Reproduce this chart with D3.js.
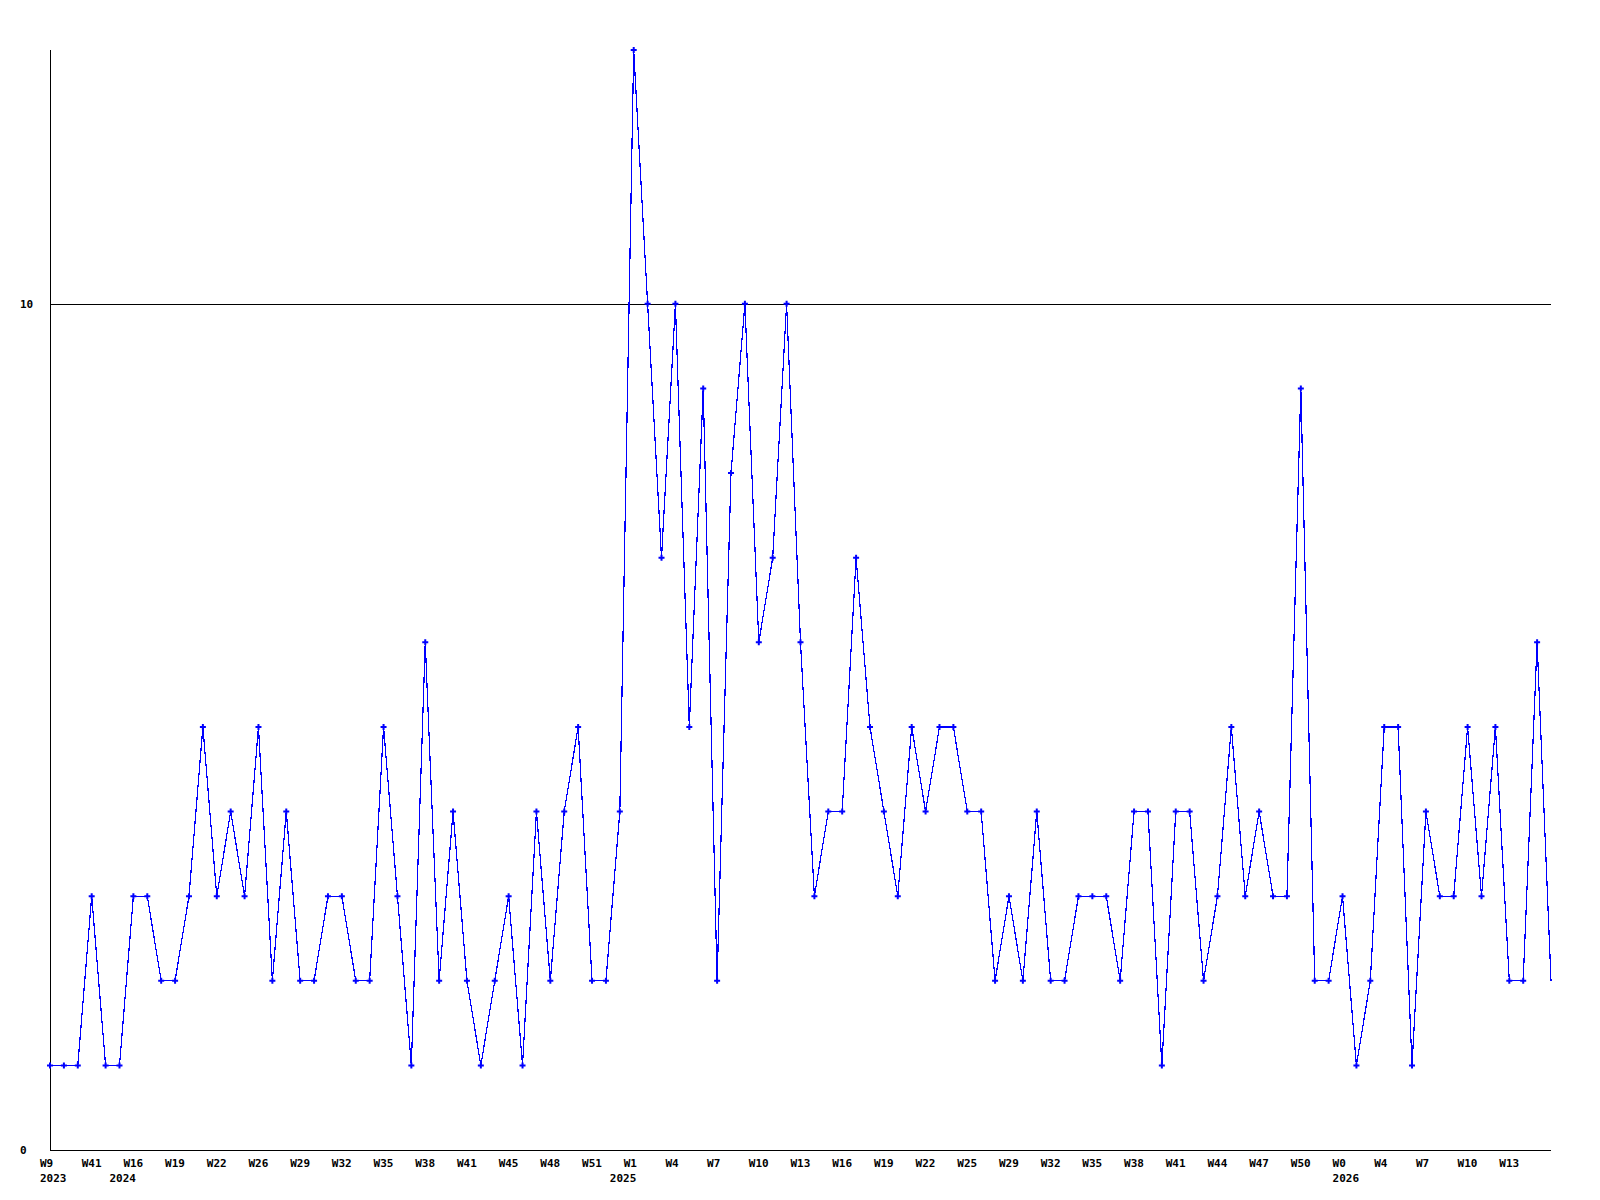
<!DOCTYPE html>
<html>
<head>
<meta charset="utf-8">
<script src="https://cdn.jsdelivr.net/npm/d3@7"></script>
<style>
  body { margin: 0; background: #fff; }
  text { font-family: "DejaVu Sans Mono", monospace; font-weight: bold; font-size: 11px; fill: #000; }
</style>
</head>
<body>
<svg class="chart"></svg>
<script>
// weekly counts, one per point
var values = [1, 1, 1, 3, 1, 1, 3, 3, 2, 2, 3, 5, 3, 4, 3, 5, 2, 4, 2, 2,
              3, 3, 2, 2, 5, 3, 1, 6, 2, 4, 2, 1, 2, 3, 1, 4, 2, 4, 5, 2,
              2, 4, 13, 10, 7, 10, 5, 9, 2, 8, 10, 6, 7, 10, 6, 3, 4, 4, 7, 5,
              4, 3, 5, 4, 5, 5, 4, 4, 2, 3, 2, 4, 2, 2, 3, 3, 3, 2, 4, 4,
              1, 4, 4, 2, 3, 5, 3, 4, 3, 3, 9, 2, 2, 3, 1, 2, 5, 5, 1, 4,
              3, 3, 5, 3, 5, 2, 2, 6, 2];

// week labels, one every 3rd point
var weekLabels = ["W9", "W41", "W16", "W19", "W22", "W26", "W29", "W32", "W35", "W38",
                  "W41", "W45", "W48", "W51", "W1", "W4", "W7", "W10", "W13", "W16",
                  "W19", "W22", "W25", "W29", "W32", "W35", "W38", "W41", "W44", "W47",
                  "W50", "W0", "W4", "W7", "W10", "W13"];
var weekStep = 3;

// year labels and the point they sit under
var yearLabels = ["2023", "2024", "2025", "2026"];
var yearIndex = [0, 5, 41, 93];

var yTicks = [0, 10];
var yMax = 13;

window.onload = function () {
    var width = 1600, height = 1200;

    var svg = d3.select("svg.chart")
        .attr("width", width)
        .attr("height", height);

    var x = d3.scaleLinear().domain([0, values.length - 1]).range([50, 1551]);
    var y = d3.scaleLinear().domain([0, yMax]).range([1150, 50]);

    // horizontal guide lines at the y ticks
    svg.selectAll("line.grid")
        .data(yTicks)
        .enter().append("line")
            .attr("x1", x(0)).attr("x2", x(values.length - 1))
            .attr("y1", d => Math.round(y(d)) + 0.5).attr("y2", d => Math.round(y(d)) + 0.5)
            .attr("stroke", "#000").attr("shape-rendering", "crispEdges");

    // y axis line
    svg.append("line")
        .attr("x1", 50.5).attr("x2", 50.5)
        .attr("y1", y(yMax)).attr("y2", y(0))
        .attr("stroke", "#000").attr("shape-rendering", "crispEdges");

    svg.selectAll("text.ylab")
        .data(yTicks)
        .enter().append("text")
            .attr("x", 20)
            .attr("y", d => y(d) + 4)
            .text(d => d);

    svg.selectAll("text.week")
        .data(weekLabels)
        .enter().append("text")
            .attr("x", (d, i) => x(i * weekStep) - 10)
            .attr("y", 1167)
            .text(d => d);

    svg.selectAll("text.year")
        .data(yearLabels)
        .enter().append("text")
            .attr("x", (d, i) => x(yearIndex[i]) - 10)
            .attr("y", 1182)
            .text(d => d);

    var line = d3.line()
        .x((d, i) => x(i))
        .y(d => y(d));

    svg.append("path")
        .datum(values)
        .attr("d", line)
        .attr("fill", "none")
        .attr("stroke", "#0000ff")
        .attr("stroke-width", 1.2)
        .attr("shape-rendering", "crispEdges");

    // point markers (the last point has none)
    svg.selectAll("path.pt")
        .data(values.slice(0, -1))
        .enter().append("path")
            .attr("transform", (d, i) => "translate(" + x(i) + "," + y(d) + ")")
            .attr("d", d3.symbol().type(d3.symbolCross).size(20))
            .attr("fill", "#0000ff");
};
</script>
</body>
</html>
